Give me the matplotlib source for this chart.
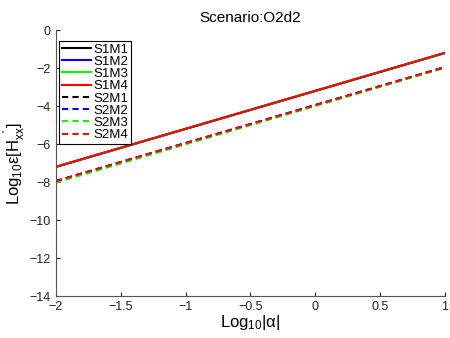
import matplotlib
matplotlib.use("Agg")
import matplotlib.pyplot as plt

plt.rcParams['font.family'] = ['Liberation Sans', 'DejaVu Sans']
plt.rcParams['mathtext.fontset'] = 'custom'
plt.rcParams['mathtext.rm'] = 'Liberation Sans'
plt.rcParams['mathtext.it'] = 'Liberation Sans'

# log10|alpha| endpoints
log_alpha = [-2, 1]

# log10 error per series (S1 = solid, S2 = dashed)
labels = ["S1M1", "S1M2", "S1M3", "S1M4", "S2M1", "S2M2", "S2M3", "S2M4"]
s1m1 = [-7.2, -1.2]
s1m2 = [-7.2, -1.2]
s1m3 = [-7.2, -1.2]
s1m4 = [-7.2, -1.2]
s2m1 = [-7.95, -1.95]
s2m2 = [-7.95, -1.95]
s2m3 = [-8.03, -1.98]
s2m4 = [-7.95, -1.95]
series = [s1m1, s1m2, s1m3, s1m4, s2m1, s2m2, s2m3, s2m4]

colors = ['black', 'blue', '#00ff00', 'red'] * 2
styles = ['-'] * 4 + ['--'] * 4

fig = plt.figure(figsize=(4.5, 3.38), dpi=100)
ax = fig.add_axes([0.124, 0.124, 0.865, 0.787])

for y, lab, c, ls in zip(series, labels, colors, styles):
    ax.plot(log_alpha, y, color=c, linestyle=ls, linewidth=1.5, label=lab,
            dashes=(3, 2) if ls == '--' else (None, None))

ax.set_xlim(-2, 1)
ax.set_ylim(-14, 0)
ax.set_xticks([-2, -1.5, -1, -0.5, 0, 0.5, 1])
ax.set_xticklabels(['\u22122', '\u22121.5', '\u22121', '\u22120.5', '0', '0.5', '1'])
ax.set_yticks(range(-14, 1, 2))
ax.set_yticklabels(['\u2212%d' % -v if v < 0 else '0' for v in range(-14, 1, 2)])
ax.tick_params(direction='in', length=3, labelsize=9, colors='#222222')
for side in ['top', 'right']:
    ax.spines[side].set_visible(False)
for side in ['left', 'bottom']:
    ax.spines[side].set_color('#555555')

ax.set_title("Scenario:O2d2", fontsize=11, pad=6)
ax.set_xlabel(r"Log$_{10}$|$\alpha$|", fontsize=12, labelpad=0)
ax.set_ylabel(r"Log$_{10}$ε[$\mathrm{H}_{xx}^{\ \ \mathrm{''}}$]", fontsize=12, labelpad=2)

leg = ax.legend(loc='upper left', bbox_to_anchor=(0.008, 0.96), borderaxespad=0,
                fontsize=9.5, handlelength=2.2, handletextpad=0.2,
                labelspacing=0.0, borderpad=0.2,
                fancybox=False, framealpha=1)
leg.get_frame().set_edgecolor('black')
leg.get_frame().set_linewidth(0.8)

fig.savefig("out.png", dpi=100)
